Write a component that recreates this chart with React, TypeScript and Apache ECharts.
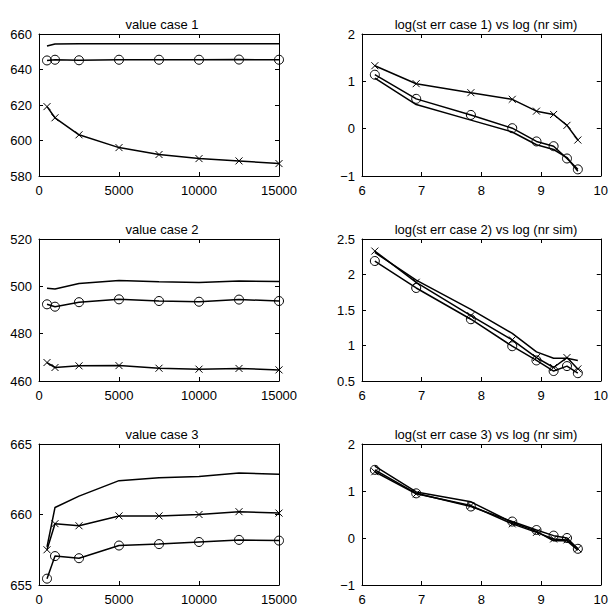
import React, { useEffect, useRef } from "react";
import * as echarts from "echarts";

// x values
const nrSim = [500, 1000, 2500, 5000, 7500, 10000, 12500, 15000];
const logNrSim = [6.215, 6.908, 7.824, 8.517, 8.923, 9.21, 9.434, 9.616];

// value case 1
const case1Plain = [653.2, 654.4, 654.5, 654.5, 654.5, 654.5, 654.5, 654.5];
const case1Circle = [645.1, 645.5, 645.2, 645.5, 645.5, 645.5, 645.6, 645.5];
const case1Cross = [619.1, 612.8, 603.2, 596.0, 592.1, 589.8, 588.5, 587.0];

// value case 2
const case2Plain = [499.2, 498.9, 501.2, 502.5, 501.9, 501.6, 502.3, 502.0];
const case2Circle = [492.4, 491.4, 493.3, 494.5, 493.8, 493.5, 494.4, 493.8];
const case2Cross = [467.8, 465.7, 466.4, 466.5, 465.4, 465.0, 465.3, 464.7];

// value case 3
const case3Plain = [657.7, 660.5, 661.3, 662.4, 662.6, 662.7, 662.95, 662.85];
const case3Circle = [655.45, 657.05, 656.9, 657.8, 657.9, 658.05, 658.2, 658.15];
const case3Cross = [657.5, 659.35, 659.2, 659.9, 659.9, 660.0, 660.2, 660.1];

// log st err case 1
const err1Plain = [1.07, 0.51, 0.18, -0.07, -0.34, -0.44, -0.61, -0.9];
const err1Circle = [1.14, 0.63, 0.29, 0.01, -0.27, -0.37, -0.63, -0.86];
const err1Cross = [1.33, 0.95, 0.76, 0.62, 0.37, 0.3, 0.07, -0.24];

// log st err case 2
const err2Plain = [2.31, 1.92, 1.51, 1.17, 0.91, 0.82, 0.82, 0.79];
const err2Circle = [2.19, 1.81, 1.37, 0.99, 0.79, 0.64, 0.71, 0.61];
const err2Cross = [2.33, 1.89, 1.42, 1.08, 0.83, 0.69, 0.83, 0.67];

// log st err case 3
const err3Plain = [1.53, 0.98, 0.77, 0.33, 0.14, -0.06, -0.06, -0.26];
const err3Circle = [1.45, 0.95, 0.67, 0.35, 0.17, 0.05, 0.0, -0.23];
const err3Cross = [1.41, 0.94, 0.69, 0.3, 0.12, -0.02, -0.04, -0.23];

const titles = [
  "value case 1",
  "log(st err case 1) vs log (nr sim)",
  "value case 2",
  "log(st err case 2) vs log (nr sim)",
  "value case 3",
  "log(st err case 3) vs log (nr sim)",
];

const FONT = "'Liberation Sans', Arial, Helvetica, sans-serif";

export default function App() {
  const ref = useRef<HTMLDivElement>(null);
  useEffect(() => {
    document.body.style.margin = "0";
    const chart = echarts.init(ref.current!, null, { renderer: "svg" });

    const rowTops = [34, 239, 444];
    const colLefts = [39, 362];
    const colWidths = [240, 242];
    const H = 142;

    const panels = [
      { xs: nrSim, x: [0, 15000, 5000], y: [580, 660, 20], d: [case1Plain, case1Circle, case1Cross] },
      { xs: logNrSim, x: [6, 10, 1], y: [-1, 2, 1], d: [err1Plain, err1Circle, err1Cross] },
      { xs: nrSim, x: [0, 15000, 5000], y: [460, 520, 20], d: [case2Plain, case2Circle, case2Cross] },
      { xs: logNrSim, x: [6, 10, 1], y: [0.5, 2.5, 0.5], d: [err2Plain, err2Circle, err2Cross] },
      { xs: nrSim, x: [0, 15000, 5000], y: [655, 665, 5], d: [case3Plain, case3Circle, case3Cross] },
      { xs: logNrSim, x: [6, 10, 1], y: [-1, 2, 1], d: [err3Plain, err3Circle, err3Cross] },
    ];

    const grid: any[] = [];
    const xAxis: any[] = [];
    const yAxis: any[] = [];
    const series: any[] = [];
    const title: any[] = [];

    const axisLine = { show: true, onZero: false, lineStyle: { color: "#000", width: 1 } };
    const axisTick = { show: true, inside: true, length: 4, lineStyle: { color: "#000", width: 1 } };
    const fmt = (v: number) => String(v).replace("-", "\u2212");

    panels.forEach((p, i) => {
      const row = Math.floor(i / 2);
      const col = i % 2;
      const left = colLefts[col];
      const width = colWidths[col];
      const top = rowTops[row];
      grid.push({ left, top, width, height: H, containLabel: false });
      title.push({
        text: titles[i],
        left: left + width / 2 - 2,
        top: top - 21,
        textAlign: "center",
        textStyle: { fontFamily: FONT, fontSize: 13, fontWeight: "normal", color: "#000" },
      });
      const xi = xAxis.length;
      const yi = yAxis.length;
      const xBase = { type: "value", gridIndex: i, min: p.x[0], max: p.x[1], interval: p.x[2], splitLine: { show: false }, axisLine, axisTick };
      const yBase = { type: "value", gridIndex: i, min: p.y[0], max: p.y[1], interval: p.y[2], splitLine: { show: false }, axisLine, axisTick };
      xAxis.push({
        ...xBase,
        position: "bottom",
        axisLabel: { show: true, color: "#000", fontFamily: FONT, fontSize: 13, margin: 8, formatter: fmt },
      });
      xAxis.push({ ...xBase, position: "top", axisLabel: { show: false } });
      yAxis.push({
        ...yBase,
        position: "left",
        axisLabel: { show: true, color: "#000", fontFamily: FONT, fontSize: 13, margin: 7, formatter: fmt },
      });
      yAxis.push({ ...yBase, position: "right", axisLabel: { show: false } });

      const base = {
        type: "line",
        xAxisIndex: xi,
        yAxisIndex: yi,
        silent: true,
        lineStyle: { color: "#000", width: 1.5 },
        emphasis: { disabled: true },
      };
      const zip = (ys: number[]) => p.xs.map((x, k) => [x, ys[k]]);
      series.push({ ...base, data: zip(p.d[0]), showSymbol: false, symbol: "none" });
      series.push({
        ...base,
        data: zip(p.d[1]),
        symbol: "circle",
        symbolSize: 9,
        showAllSymbol: true,
        itemStyle: { color: "rgba(0,0,0,0)", borderColor: "#000", borderWidth: 1 },
      });
      series.push({
        ...base,
        data: zip(p.d[2]),
        symbol: "path://M0 0L10 10M10 0L0 10",
        symbolSize: 7,
        showAllSymbol: true,
        itemStyle: { color: "rgba(0,0,0,0)", borderColor: "#000", borderWidth: 1 },
      });
    });

    chart.setOption({
      animation: false,
      backgroundColor: "#fff",
      title,
      grid,
      xAxis,
      yAxis,
      series,
    });
    return () => chart.dispose();
  }, []);
  return <div ref={ref} style={{ width: 611, height: 606 }} />;
}
